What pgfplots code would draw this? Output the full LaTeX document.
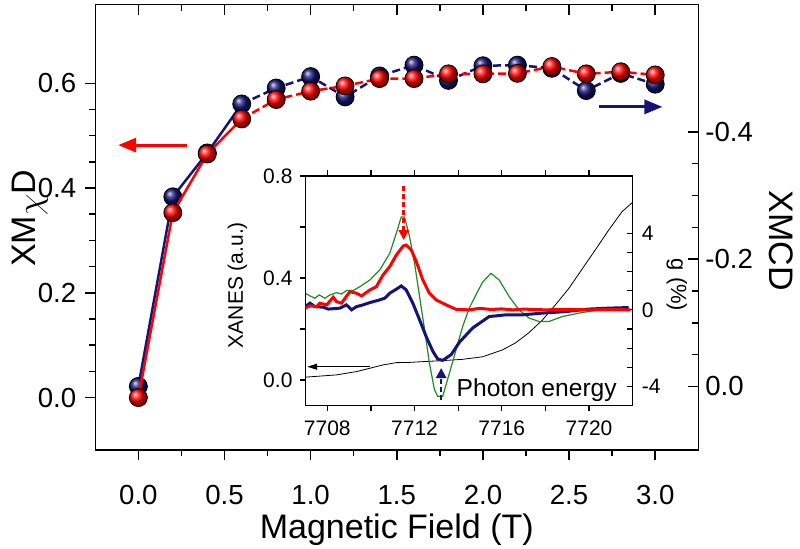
\documentclass[border=0pt]{standalone}
\usepackage{fontspec}
\setmainfont{Liberation Sans}
\usepackage{pgfplots}
\pgfplotsset{compat=1.18}
\usetikzlibrary{arrows.meta}
\definecolor{myred}{RGB}{255,0,0}
\definecolor{mynavy}{RGB}{20,20,120}
\definecolor{mygreen}{RGB}{30,140,30}
\pgfplotsset{
  mainax/.style={scale only axis, width=301.5pt, height=222.65pt, xmin=-0.25, xmax=3.25,
    axis line style={line width=0.75pt,-}, every tick/.style={black,line width=0.75pt},
    major tick length=5pt, minor tick length=3pt,
    tick label style={font=\fontsize{13.8}{16}\selectfont},
    /pgf/number format/fixed, /pgf/number format/fixed zerofill, /pgf/number format/precision=1,
    /pgf/number format/assume math mode=true},
  insetax/.style={scale only axis, width=163.6pt, height=114.75pt, at={(105.1pt,22.25pt)}, anchor=south west,
    xmin=7707, xmax=7722, axis line style={line width=0.6pt,-}, every tick/.style={black,line width=0.6pt},
    major tick length=3pt, minor tick length=3pt,
    tick label style={font=\fontsize{10.5}{12}\selectfont},
    /pgf/number format/assume math mode=true, /pgf/number format/1000 sep={}},
}
\begin{document}
\begin{tikzpicture}
% right axis (blue, XMCD)
\begin{axis}[mainax, axis x line*=top, axis y line*=right, tick align=inside,
  xtick={0,0.5,1,1.5,2,2.5,3}, minor x tick num=1, xticklabels={},
  ymin=-0.6, ymax=0.1, y dir=reverse, ytick={-0.4,-0.2,0}, minor y tick num=3,
  ylabel={XMCD}, ylabel style={at={(axis description cs:1.138,0.47)}, anchor=center, rotate=180, font=\fontsize{17}{20}\selectfont}]
\addplot[mynavy, line width=1.25pt] coordinates {(0,0.000) (0.2,-0.298) (0.4,-0.367) (0.6,-0.444)};
\addplot[mynavy, line width=1.25pt, dash pattern=on 4pt off 2pt] coordinates {(0.6,-0.444) (0.8,-0.469) (1.0,-0.487) (1.2,-0.455) (1.4,-0.488) (1.6,-0.505) (1.8,-0.481) (2.0,-0.504) (2.2,-0.505) (2.4,-0.500) (2.6,-0.465) (2.8,-0.492) (3.0,-0.475)};
\addplot[only marks, mark=ball, mark size=4.5pt, mark options={ball color=mynavy}] coordinates {(0,0.000) (0.2,-0.298) (0.4,-0.367) (0.6,-0.444) (0.8,-0.469) (1.0,-0.487) (1.2,-0.455) (1.4,-0.488) (1.6,-0.505) (1.8,-0.481) (2.0,-0.504) (2.2,-0.505) (2.4,-0.500) (2.6,-0.465) (2.8,-0.492) (3.0,-0.475)};
\end{axis}
% left axis (red, XMchiD)
\begin{axis}[mainax, name=main, tick align=outside, xtick pos=bottom, ytick pos=left,
  xtick={0,0.5,1,1.5,2,2.5,3}, minor x tick num=1,
  ymin=-0.1, ymax=0.75, ytick={0,0.2,0.4,0.6}, minor y tick num=3,
  xticklabel style={yshift=-9pt}, yticklabel style={xshift=-1pt},
  xlabel={Magnetic Field (T)}, xlabel style={at={(axis description cs:0.5,-0.18)}, anchor=center, font=\fontsize{17}{20}\selectfont},
  ylabel={XM\raisebox{-0.15em}{$\chi$}D}, ylabel style={at={(axis description cs:-0.108,0.52)}, anchor=center, font=\fontsize{17}{20}\selectfont}]
\addplot[myred, line width=1.25pt] coordinates {(0,0.000) (0.2,0.353) (0.4,0.465) (0.6,0.532)};
\addplot[myred, line width=1.25pt, dash pattern=on 4pt off 2pt] coordinates {(0.6,0.532) (0.8,0.569) (1.0,0.585) (1.2,0.595) (1.4,0.609) (1.6,0.609) (1.8,0.618) (2.0,0.618) (2.2,0.619) (2.4,0.632) (2.6,0.618) (2.8,0.622) (3.0,0.616)};
\addplot[only marks, mark=ball, mark size=4.5pt, mark options={ball color=myred}] coordinates {(0,0.000) (0.2,0.353) (0.4,0.465) (0.6,0.532) (0.8,0.569) (1.0,0.585) (1.2,0.595) (1.4,0.609) (1.6,0.609) (1.8,0.618) (2.0,0.618) (2.2,0.619) (2.4,0.632) (2.6,0.618) (2.8,0.622) (3.0,0.616)};
\draw[myred, line width=1.5pt, -{Triangle[length=9pt,width=7pt]}] (axis cs:0.28,0.482) -- (axis cs:-0.117,0.482);
\draw[mynavy, line width=1.5pt, -{Triangle[length=9pt,width=7pt]}] (axis cs:2.673,0.555) -- (axis cs:3.042,0.555);
\end{axis}
% inset left axis (XANES)
\begin{axis}[insetax, axis background/.style={fill=white}, tick align=outside,
  xtick={7708,7712,7716,7720}, minor x tick num=1, xtick pos=both, xticklabel pos=bottom,
  ymin=-0.1, ymax=0.8, ytick={0,0.4,0.8}, minor y tick num=1, ytick pos=left,
  xticklabel style={yshift=-1pt},
  yticklabel style={/pgf/number format/fixed, /pgf/number format/fixed zerofill, /pgf/number format/precision=1},
  ylabel={XANES (a.u.)}, ylabel style={at={(axis description cs:-0.208,0.525)}, anchor=center, font=\fontsize{10.5}{12}\selectfont}]
\addplot[black, line width=0.4pt] coordinates {(7706.98,0.011) (7708.42,0.020) (7709.34,0.033) (7709.95,0.046) (7710.55,0.059) (7711.16,0.068) (7711.77,0.069) (7712.38,0.072) (7713.29,0.076) (7714.2,0.081) (7715.12,0.091) (7716.03,0.118) (7716.64,0.146) (7717.25,0.186) (7717.86,0.235) (7718.47,0.296) (7719.08,0.360) (7719.68,0.435) (7720.30,0.512) (7720.90,0.588) (7721.51,0.660) (7722,0.697)};
\draw[black, line width=0.5pt, -{Triangle[length=5pt,width=3pt]}] (axis cs:7709.95,0.052) -- (axis cs:7707.08,0.052);
\node[font=\fontsize{12.3}{14}\selectfont] at (axis cs:7717.6,-0.04) {Photon energy};
\end{axis}
% inset right axis (dichroism signals)
\begin{axis}[insetax, axis x line=none, axis y line*=right, tick align=inside,
  ymin=-5, ymax=7, ytick={-4,0,4}, minor y tick num=3,
  yticklabel style={xshift=1pt},
  ylabel={g (\%)}, ylabel style={at={(axis description cs:1.135,0.525)}, anchor=center, rotate=180, font=\fontsize{11}{12}\selectfont}]
\addplot[mygreen, line width=0.6pt] coordinates {(7706.98,0.87) (7707.21,0.73) (7707.43,0.61) (7707.63,0.78) (7707.89,0.61) (7708.12,0.78) (7708.42,0.90) (7708.65,0.83) (7708.88,1.01) (7709.18,1.01) (7709.49,1.21) (7709.95,1.56) (7710.40,2.08) (7710.86,2.95) (7711.16,3.99) (7711.39,4.86) (7711.54,4.86) (7711.77,3.82) (7712.00,2.43) (7712.23,0.69) (7712.46,-1.04) (7712.68,-2.78) (7712.91,-4.17) (7713.06,-4.52) (7713.29,-4.52) (7713.60,-3.3) (7713.90,-2.1) (7714.21,-0.85) (7714.51,0.1) (7714.82,0.8) (7715.12,1.45) (7715.50,1.91) (7715.88,1.56) (7716.34,0.69) (7716.79,0.0) (7717.25,-0.43) (7717.71,-0.61) (7718.16,-0.61) (7718.77,-0.35) (7719.68,-0.14) (7720.45,0.0) (7721.82,0.09)};
\addplot[mynavy, line width=1.5pt] coordinates {(7706.98,0.17) (7707.21,0.35) (7707.43,0.17) (7707.81,0.14) (7708.04,0.04) (7708.58,0.09) (7708.88,0.26) (7709.11,0.0) (7709.34,0.17) (7709.64,0.26) (7709.95,0.38) (7710.40,0.52) (7710.63,0.61) (7710.86,0.87) (7711.16,1.08) (7711.39,1.25) (7711.62,1.04) (7711.92,0.35) (7712.23,-0.52) (7712.53,-1.39) (7712.84,-2.17) (7713.06,-2.57) (7713.29,-2.64) (7713.68,-2.34) (7714.05,-1.70) (7714.66,-0.95) (7715.42,-0.35) (7716.19,-0.26) (7716.95,-0.26) (7717.86,-0.17) (7718.93,-0.09) (7719.99,0.04) (7720.90,0.09) (7721.81,0.12)};
\addplot[myred, line width=1.5pt] coordinates {(7706.98,0.09) (7707.21,0.21) (7707.51,0.17) (7707.66,0.35) (7707.97,0.26) (7708.27,0.66) (7708.42,0.43) (7708.65,0.35) (7709.03,0.95) (7709.34,0.87) (7709.57,0.73) (7709.95,1.04) (7710.25,1.21) (7710.55,1.82) (7710.86,2.26) (7711.16,2.86) (7711.47,3.33) (7711.62,3.39) (7711.85,3.13) (7712.08,2.52) (7712.38,1.56) (7712.68,0.87) (7712.99,0.52) (7713.45,0.26) (7713.90,0.03) (7714.51,0.0) (7715,0.08) (7715.5,0.02) (7716,0.05) (7716.5,0.0) (7717,0.04) (7718,0.0) (7719,0.03) (7720,0.0) (7721,0.02) (7721.9,0.0)};
\draw[myred, line width=1.2pt, dash pattern=on 2.5pt off 1.5pt, -{Triangle[length=5pt,width=5pt]}] (axis cs:7711.5,6.46) -- (axis cs:7711.5,3.65);
\draw[mynavy, line width=1.2pt, dash pattern=on 2.5pt off 1.5pt, -{Triangle[length=5pt,width=5pt]}] (axis cs:7713.22,-4.69) -- (axis cs:7713.22,-3.04);
\end{axis}
\pgfresetboundingbox
\path[use as bounding box] (main.south west) ++(-47.65pt,-49.5pt) rectangle ++(400pt,274.5pt);
\end{tikzpicture}
\end{document}
